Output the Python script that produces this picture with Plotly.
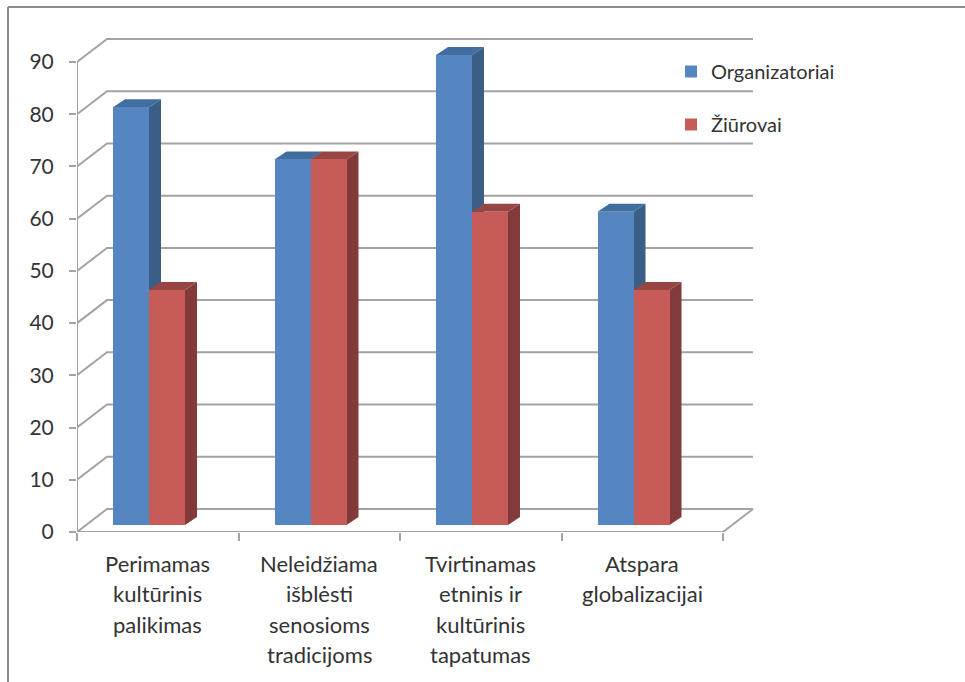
import plotly.graph_objects as go

categories = [
    ["Perimamas", "kultūrinis", "palikimas"],
    ["Neleidžiama", "išblėsti", "senosioms", "tradicijoms"],
    ["Tvirtinamas", "etninis ir", "kultūrinis", "tapatumas"],
    ["Atspara", "globalizacijai"],
]
organizatoriai = [80, 70, 90, 60]
ziurovai = [45, 70, 60, 45]
y_ticks = [0, 10, 20, 30, 40, 50, 60, 70, 80, 90]

BLUE, BLUE_TOP, BLUE_SIDE = "#5586C1", "#406E9E", "#3A5E86"
RED, RED_TOP, RED_SIDE = "#C65B58", "#974644", "#833A3B"
GRID = "#A3A3A3"
TEXT = "#333333"
FONT = "Lato"

W, H = 965, 682
L, R0, T, B = 77, 723, 22, 532
UX = (R0 - L) / 4      # px per category
UY = (532 - 62) / 90   # px per value unit
PW = 700
xmax = PW / UX
ymax = (B - T) / UY

# 3-D projection constants, in axis units
WALL_DX, WALL_DY = 30 / UX, 23 / UY
DEPTH_DX, DEPTH_DY = 12 / UX, 8 / UY
BASE = 7 / UY
BAR_W = 36 / UX
CENTRE = (149 - L) / UX

fig = go.Figure()
shapes = []


def poly(pts, fill):
    path = "M" + " L".join(f"{x},{y}" for x, y in pts) + " Z"
    return dict(type="path", path=path, xref="x", yref="y", layer="below",
                fillcolor=fill, line=dict(width=0))


def seg(pts):
    path = "M" + " L".join(f"{x},{y}" for x, y in pts)
    return dict(type="path", path=path, xref="x", yref="y", layer="below",
                line=dict(color=GRID, width=2))


# walls / grid
for v in y_ticks:
    shapes.append(seg([(0, v), (WALL_DX, v + WALL_DY), (4 + WALL_DX, v + WALL_DY)]))
shapes.append(seg([(0, 0), (0, 90)]))
shapes.append(seg([(0, 0), (4, 0)]))
shapes.append(seg([(4, 0), (4 + WALL_DX, WALL_DY)]))


def faces(values, left_shift, top, side):
    for i, v in enumerate(values):
        x0 = i + CENTRE + left_shift
        x1 = x0 + BAR_W
        y1 = BASE + v
        shapes.append(poly([(x1, BASE), (x1 + DEPTH_DX, BASE + DEPTH_DY),
                            (x1 + DEPTH_DX, y1 + DEPTH_DY), (x1, y1)], side))
        shapes.append(poly([(x0, y1), (x0 + DEPTH_DX, y1 + DEPTH_DY),
                            (x1 + DEPTH_DX, y1 + DEPTH_DY), (x1, y1)], top))


faces(organizatoriai, -BAR_W, BLUE_TOP, BLUE_SIDE)
faces(ziurovai, 0, RED_TOP, RED_SIDE)

xs = [i + CENTRE for i in range(4)]
fig.add_bar(x=xs, y=organizatoriai, base=BASE, width=BAR_W, offset=-BAR_W,
            name="Organizatoriai", marker=dict(color=BLUE, line=dict(width=0)),
            legendgroup="a")
fig.add_bar(x=xs, y=ziurovai, base=BASE, width=BAR_W, offset=0,
            name="Žiūrovai", marker=dict(color=RED, line=dict(width=0)),
            legendgroup="b")

# frame of the page
shapes.append(dict(type="line", xref="paper", yref="paper",
                   x0=(8 - L) / PW, x1=(8 - L) / PW,
                   y0=(B - H) / (B - T), y1=(B - 7) / (B - T),
                   line=dict(color="#8C8C8C", width=2)))
shapes.append(dict(type="line", xref="paper", yref="paper",
                   x0=(8 - L) / PW, x1=(W - L) / PW,
                   y0=(B - 7) / (B - T), y1=(B - 7) / (B - T),
                   line=dict(color="#8C8C8C", width=2)))

# category labels: one annotation per line, for the wide line spacing
annotations = []
LINE_PX = [31, 61, 92, 122]
for i, lines in enumerate(categories):
    for j, text in enumerate(lines):
        annotations.append(dict(
            x=i + 0.5, y=-LINE_PX[j] / (B - T), xref="x", yref="paper", text=text,
            showarrow=False, xanchor="center", yanchor="middle",
            font=dict(family=FONT, size=22, color=TEXT)))

fig.update_layout(
    width=W, height=H, autosize=False,
    margin=dict(l=L, r=W - L - PW, t=T, b=H - B, pad=0),
    paper_bgcolor="white", plot_bgcolor="white",
    barmode="overlay", bargap=0,
    showlegend=True,
    legend=dict(x=(671 - L) / PW, y=(B - 52) / (B - T), xanchor="left", yanchor="top",
                font=dict(family=FONT, size=20, color=TEXT),
                bgcolor="rgba(0,0,0,0)", tracegroupgap=24, traceorder="grouped"),
    shapes=shapes, annotations=annotations,
    xaxis=dict(range=[0, xmax], showgrid=False, zeroline=False, showline=False,
               tickvals=[0, 1, 2, 3, 4], ticktext=["", "", "", "", ""],
               ticks="outside", ticklen=8, tickwidth=2, tickcolor=GRID),
    yaxis=dict(range=[0, ymax], showgrid=False, zeroline=False, showline=False,
               tickvals=y_ticks, ticks="outside", ticklen=7, tickwidth=2,
               ticklabelstandoff=11, tickcolor=GRID,
               tickfont=dict(family=FONT, size=21, color=TEXT)),
)

fig.write_html("out.html", config={"displayModeBar": False},
               post_script="document.body.style.margin='0';")
